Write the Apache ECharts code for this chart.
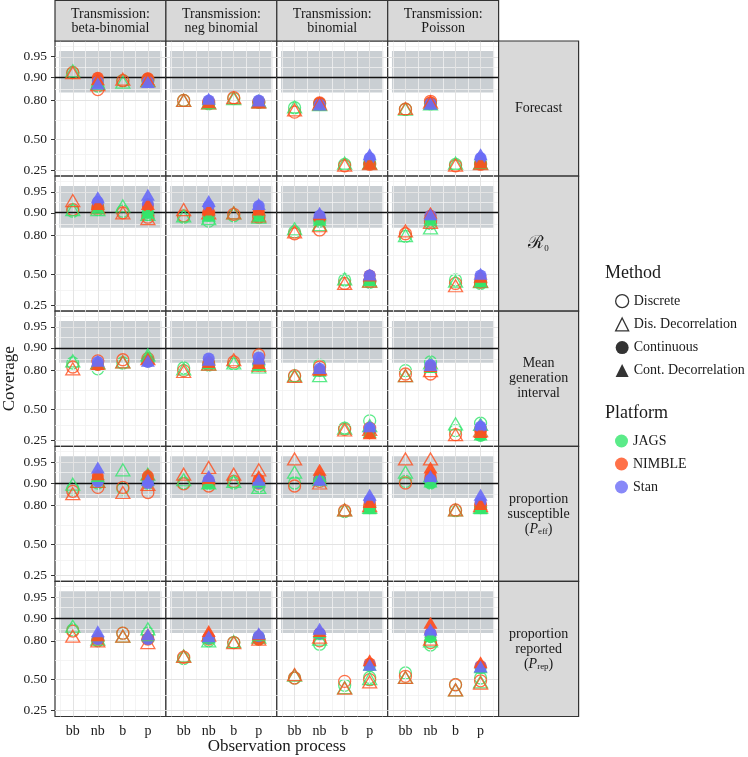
<!DOCTYPE html>
<html><head><meta charset="utf-8">
<script src="https://cdn.jsdelivr.net/npm/echarts@6/dist/echarts.min.js"></script>
<style>html,body{margin:0;padding:0;background:#fff}#chart{width:748px;height:757px}</style>
</head><body><div id="chart"></div>
<script>
// ---------- categories / labels ----------
const transmissions = ['beta-binomial', 'neg binomial', 'binomial', 'Poisson'];
const obsProcesses = ['bb', 'nb', 'b', 'p'];
const metricNames = ['Forecast', 'R0', 'Mean generation interval', 'proportion susceptible', 'proportion reported'];
const yTickValues = [0.25, 0.50, 0.80, 0.90, 0.95];
const methods = ['Discrete', 'Dis. Decorrelation', 'Continuous', 'Cont. Decorrelation'];
const platforms = ['JAGS', 'NIMBLE', 'Stan'];
const nominalCoverage = 0.90;
const bandLimits = [0.841, 0.959];

// ---------- data: 16 values = [bb,nb,b,p] x [beta-binomial, neg binomial, binomial, Poisson] ----------
// Forecast
const fc_D_J  = [0.915,0.87,0.89,0.89,   0.80,0.78,0.81,0.79,   0.755,0.78,0.29,0.30,  0.745,0.78,0.29,0.30];
const fc_D_N  = [0.915,0.855,0.89,0.895, 0.80,0.79,0.815,0.79,  0.725,0.785,0.28,0.29, 0.745,0.795,0.28,0.29];
const fc_DD_J = [0.92,0.88,0.885,0.89,   0.80,0.785,0.81,0.795, 0.76,0.775,0.30,0.30,  0.745,0.78,0.30,0.30];
const fc_DD_N = [0.915,0.875,0.895,0.89, 0.80,0.785,0.815,0.79, 0.74,0.78,0.285,0.295, 0.75,0.79,0.285,0.295];
const fc_C_J  = [null,0.89,null,0.895,   null,0.78,null,0.79,   null,0.78,null,0.30,   null,0.785,null,0.30];
const fc_C_N  = [null,0.90,null,0.898,   null,0.79,null,0.79,   null,0.785,null,0.295, null,0.79,null,0.295];
const fc_C_S  = [null,0.885,null,0.885,  null,0.80,null,0.80,   null,0.775,null,0.34,  null,0.78,null,0.34];
const fc_CD_J = [null,0.885,null,0.89,   null,0.785,null,0.79,  null,0.775,null,0.30,  null,0.78,null,0.30];
const fc_CD_N = [null,0.895,null,0.895,  null,0.79,null,0.79,   null,0.79,null,0.30,   null,0.795,null,0.305];
const fc_CD_S = [null,0.88,null,0.885,   null,0.81,null,0.80,   null,0.775,null,0.37,  null,0.78,null,0.37];
// R0
const r0_D_J  = [0.905,0.91,0.905,0.895, 0.885,0.87,0.89,0.89,  0.82,0.87,0.45,0.43,   0.795,0.86,0.45,0.42];
const r0_D_N  = [0.91,0.915,0.90,0.885,  0.89,0.90,0.895,0.885, 0.81,0.83,0.42,0.44,   0.81,0.87,0.42,0.43];
const r0_DD_J = [0.91,0.91,0.92,0.895,   0.89,0.88,0.90,0.885,  0.836,0.855,0.46,0.44, 0.80,0.84,0.44,0.435];
const r0_DD_N = [0.933,0.915,0.90,0.88,  0.91,0.90,0.90,0.89,   0.82,0.85,0.42,0.44,   0.825,0.865,0.40,0.44];
const r0_C_J  = [null,0.92,null,0.90,    null,0.89,null,0.895,  null,0.875,null,0.45,  null,0.88,null,0.44];
const r0_C_N  = [null,0.92,null,0.92,    null,0.90,null,0.905,  null,0.88,null,0.49,   null,0.89,null,0.47];
const r0_C_S  = [null,0.93,null,0.925,   null,0.92,null,0.92,   null,0.89,null,0.49,   null,0.89,null,0.49];
const r0_CD_J = [null,0.915,null,0.90,   null,0.89,null,0.89,   null,0.875,null,0.45,  null,0.875,null,0.44];
const r0_CD_N = [null,0.925,null,0.925,  null,0.91,null,0.91,   null,0.895,null,0.49,  null,0.90,null,0.48];
const r0_CD_S = [null,0.94,null,0.945,   null,0.932,null,0.925, null,0.90,null,0.50,   null,0.895,null,0.505];
// Mean generation interval
const mg_D_J  = [0.84,0.81,0.84,0.85,    0.815,0.83,0.835,0.83, 0.765,0.83,0.34,0.40,  0.80,0.845,0.32,0.38];
const mg_D_N  = [0.82,0.85,0.855,0.86,   0.80,0.835,0.845,0.875,0.77,0.82,0.33,0.34,   0.78,0.78,0.29,0.33];
const mg_DD_J = [0.85,0.84,0.845,0.875,  0.81,0.835,0.84,0.82,  0.77,0.77,0.34,0.36,   0.77,0.84,0.375,0.37];
const mg_DD_N = [0.81,0.84,0.845,0.86,   0.795,0.835,0.855,0.83,0.765,0.81,0.325,0.33, 0.77,0.80,0.29,0.32];
const mg_C_J  = [null,0.83,null,0.85,    null,0.84,null,0.835,  null,0.80,null,0.31,   null,0.82,null,0.28];
const mg_C_N  = [null,0.83,null,0.85,    null,0.845,null,0.84,  null,0.80,null,0.30,   null,0.82,null,0.31];
const mg_C_S  = [null,0.845,null,0.845,  null,0.86,null,0.865,  null,0.81,null,0.34,   null,0.83,null,0.35];
const mg_CD_J = [null,0.84,null,0.87,    null,0.84,null,0.83,   null,0.80,null,0.31,   null,0.82,null,0.29];
const mg_CD_N = [null,0.835,null,0.86,   null,0.845,null,0.84,  null,0.805,null,0.30,  null,0.825,null,0.31];
const mg_CD_S = [null,0.85,null,0.85,    null,0.855,null,0.86,  null,0.815,null,0.355, null,0.83,null,0.37];
// proportion susceptible
const ps_D_J  = [0.88,0.90,0.88,0.90,    0.90,0.90,0.90,0.89,   0.90,0.91,0.765,0.79,  0.905,0.90,0.77,0.79];
const ps_D_N  = [0.87,0.885,0.885,0.865, 0.897,0.89,0.905,0.90, 0.89,0.905,0.77,0.80,  0.90,0.91,0.775,0.80];
const ps_DD_J = [0.896,0.905,0.935,0.925,0.91,0.90,0.905,0.885, 0.93,0.91,0.775,0.79,  0.93,0.92,0.775,0.79];
const ps_DD_N = [0.86,0.905,0.865,0.895, 0.925,0.94,0.925,0.935,0.955,0.90,0.775,0.80, 0.955,0.955,0.775,0.80];
const ps_C_J  = [null,0.91,null,0.91,    null,0.90,null,0.90,   null,0.91,null,0.785,  null,0.90,null,0.785];
const ps_C_N  = [null,0.92,null,0.92,    null,0.905,null,0.91,  null,0.915,null,0.82,  null,0.92,null,0.81];
const ps_C_S  = [null,0.905,null,0.90,   null,0.91,null,0.90,   null,0.91,null,0.83,   null,0.91,null,0.82];
const ps_CD_J = [null,0.92,null,0.925,   null,0.90,null,0.905,  null,0.92,null,0.785,  null,0.905,null,0.785];
const ps_CD_N = [null,0.925,null,0.925,  null,0.915,null,0.92,  null,0.935,null,0.82,  null,0.94,null,0.81];
const ps_CD_S = [null,0.94,null,0.91,    null,0.92,null,0.91,   null,0.91,null,0.855,  null,0.92,null,0.855];
// proportion reported
const pr_D_J  = [0.855,0.80,0.84,0.84,   0.68,0.80,0.79,0.81,   0.515,0.78,0.45,0.52,  0.56,0.775,0.455,0.515];
const pr_D_N  = [0.85,0.805,0.84,0.81,   0.69,0.81,0.79,0.81,   0.515,0.80,0.485,0.50, 0.53,0.79,0.455,0.49];
const pr_DD_J = [0.871,0.81,0.825,0.86,  0.70,0.80,0.795,0.82,  0.54,0.81,0.43,0.51,   0.52,0.80,0.41,0.48];
const pr_DD_N = [0.825,0.80,0.825,0.79,  0.697,0.83,0.79,0.81,  0.545,0.82,0.425,0.48, 0.52,0.81,0.41,0.47];
const pr_C_J  = [null,0.81,null,0.81,    null,0.81,null,0.82,   null,0.835,null,0.62,  null,0.82,null,0.60];
const pr_C_N  = [null,0.81,null,0.81,    null,0.82,null,0.81,   null,0.84,null,0.64,   null,0.84,null,0.62];
const pr_C_S  = [null,0.81,null,0.81,    null,0.815,null,0.825, null,0.84,null,0.63,   null,0.84,null,0.615];
const pr_CD_J = [null,0.83,null,0.83,    null,0.82,null,0.83,   null,0.845,null,0.63,  null,0.83,null,0.61];
const pr_CD_N = [null,0.83,null,0.835,   null,0.85,null,0.835,  null,0.85,null,0.666,  null,0.884,null,0.65];
const pr_CD_S = [null,0.849,null,0.835,  null,0.825,null,0.84,  null,0.86,null,0.63,   null,0.857,null,0.615];

// ---------- assemble ----------
const combos = [
  ['Discrete','JAGS'], ['Discrete','NIMBLE'],
  ['Dis. Decorrelation','JAGS'], ['Dis. Decorrelation','NIMBLE'],
  ['Continuous','JAGS'], ['Continuous','NIMBLE'], ['Continuous','Stan'],
  ['Cont. Decorrelation','JAGS'], ['Cont. Decorrelation','NIMBLE'], ['Cont. Decorrelation','Stan']
];
const metricValues = [
  [fc_D_J, fc_D_N, fc_DD_J, fc_DD_N, fc_C_J, fc_C_N, fc_C_S, fc_CD_J, fc_CD_N, fc_CD_S],
  [r0_D_J, r0_D_N, r0_DD_J, r0_DD_N, r0_C_J, r0_C_N, r0_C_S, r0_CD_J, r0_CD_N, r0_CD_S],
  [mg_D_J, mg_D_N, mg_DD_J, mg_DD_N, mg_C_J, mg_C_N, mg_C_S, mg_CD_J, mg_CD_N, mg_CD_S],
  [ps_D_J, ps_D_N, ps_DD_J, ps_DD_N, ps_C_J, ps_C_N, ps_C_S, ps_CD_J, ps_CD_N, ps_CD_S],
  [pr_D_J, pr_D_N, pr_DD_J, pr_DD_N, pr_C_J, pr_C_N, pr_C_S, pr_CD_J, pr_CD_N, pr_CD_S]
];

const FONT = '"Liberation Serif", "DejaVu Serif", serif';
const TXT = '#1a1a1a';
const platformColors = { JAGS: '#32e66b', NIMBLE: '#ff4d1c', Stan: '#6a6cf6' };
const methodSymbol = {
  'Discrete': { symbol: 'circle', open: true },
  'Dis. Decorrelation': { symbol: 'triangle', open: true },
  'Continuous': { symbol: 'circle', open: false },
  'Cont. Decorrelation': { symbol: 'triangle', open: false }
};

const logit = p => Math.log(p / (1 - p));
const invLogit = v => 1 / (1 + Math.exp(-v));

// layout
const L = 55, T = 41, PW = 110.9, PH = 135.1;
const NC = 4, NR = 5;
const yMin = -1.313, yMax = 3.506;
const xMin = 0.29, xMax = 4.72;

const grids = [], xAxes = [], yAxes = [], series = [];
const yMajor = yTickValues.map(logit);
const yMinor = [];
for (let i = 0; i < yMajor.length - 1; i++) yMinor.push((yMajor[i] + yMajor[i + 1]) / 2);
yMinor.push(yMajor[yMajor.length - 1] + (yMajor[yMajor.length - 1] - yMajor[yMajor.length - 2]) / 2);
const xMajor = [1, 2, 3, 4];
const xMinor = [0.5, 1.5, 2.5, 3.5, 4.5];

for (let r = 0; r < NR; r++) {
  for (let c = 0; c < NC; c++) {
    const gi = r * NC + c;
    grids.push({ left: L + c * PW, top: T + r * PH, width: PW, height: PH,
      show: true, backgroundColor: '#fff', borderColor: '#333', borderWidth: 1.2 });
    xAxes.push({ gridIndex: gi, type: 'value', min: xMin, max: xMax,
      axisLine: { show: false }, splitLine: { show: false },
      axisTick: { show: r === NR - 1, customValues: xMajor, length: 4, lineStyle: { color: '#333' } },
      axisLabel: { show: r === NR - 1, customValues: xMajor, margin: 8,
        formatter: v => obsProcesses[Math.round(v) - 1],
        fontFamily: FONT, fontSize: 14, color: TXT } });
    yAxes.push({ gridIndex: gi, type: 'value', min: yMin, max: yMax,
      axisLine: { show: false }, splitLine: { show: false },
      axisTick: { show: c === 0, customValues: yMajor, length: 4, lineStyle: { color: '#333' } },
      axisLabel: { show: c === 0, customValues: yMajor, margin: 8,
        formatter: v => invLogit(v).toFixed(2),
        fontFamily: FONT, fontSize: 13.5, color: TXT } });

    // grid lines
    const gl = [];
    yMinor.forEach(v => gl.push({ yAxis: v, lineStyle: { color: '#f1f1f1', width: 0.8, type: 'solid' } }));
    xMinor.forEach(v => gl.push({ xAxis: v, lineStyle: { color: '#f1f1f1', width: 0.8, type: 'solid' } }));
    yMajor.forEach(v => gl.push({ yAxis: v, lineStyle: { color: '#e3e3e3', width: 1, type: 'solid' } }));
    xMajor.forEach(v => gl.push({ xAxis: v, lineStyle: { color: '#e3e3e3', width: 1, type: 'solid' } }));
    series.push({ type: 'scatter', xAxisIndex: gi, yAxisIndex: gi, data: [[1, 0]], symbolSize: 0, silent: true, z: 1,
      markLine: { silent: true, symbol: ['none', 'none'], label: { show: false }, animation: false, data: gl } });
    // nominal band
    series.push({ type: 'scatter', xAxisIndex: gi, yAxisIndex: gi, data: [[1, 0]], symbolSize: 0, silent: true, z: 2,
      markArea: { silent: true, itemStyle: { color: 'rgba(150,160,168,0.5)' }, label: { show: false },
        data: [[{ xAxis: 0.46, yAxis: logit(bandLimits[0]) }, { xAxis: 4.54, yAxis: logit(bandLimits[1]) }]] } });
    // nominal line
    series.push({ type: 'scatter', xAxisIndex: gi, yAxisIndex: gi, data: [[1, 0]], symbolSize: 0, silent: true, z: 3,
      markLine: { silent: true, symbol: ['none', 'none'], label: { show: false }, animation: false,
        data: [{ yAxis: logit(nominalCoverage), lineStyle: { color: '#111', width: 1.4, type: 'solid' } }] } });

    // data points
    combos.forEach((cb, k) => {
      const [method, platform] = cb;
      const arr = metricValues[r][k];
      const pts = [];
      for (let j = 0; j < 4; j++) {
        const v = arr[c * 4 + j];
        if (v !== null && v !== undefined) pts.push([j + 1, logit(v)]);
      }
      const ms = methodSymbol[method];
      const col = platformColors[platform];
      series.push({
        type: 'scatter', name: method + ' / ' + platform, xAxisIndex: gi, yAxisIndex: gi,
        data: pts, z: 4 + k, silent: true,
        symbol: ms.symbol, symbolSize: ms.symbol === 'circle' ? 12 : [14, 12],
        itemStyle: ms.open
          ? { color: 'rgba(255,255,255,0)', borderColor: col, borderWidth: 1.3 }
          : { color: col, opacity: 0.92 }
      });
    });
  }
}

// legend dummy series
methods.concat(platforms).forEach(n => series.push({ type: 'scatter', name: n, xAxisIndex: 0, yAxisIndex: 0, data: [] }));

// graphics: strips and titles
const graphics = [];
transmissions.forEach((t, c) => {
  graphics.push({ type: 'rect', shape: { x: L + c * PW, y: 0.5, width: PW, height: T - 0.5 },
    style: { fill: '#d9d9d9', stroke: '#333', lineWidth: 1.2 }, z: 10 });
  graphics.push({ type: 'text', x: L + c * PW + PW / 2, y: T / 2 + 1, z: 11,
    style: { text: 'Transmission:\n' + t, fill: TXT, font: '14px ' + FONT, align: 'center', verticalAlign: 'middle', lineHeight: 14 } });
});
const stripTexts = [
  'Forecast',
  '{cal|ℛ}{sub|0}',
  'Mean\ngeneration\ninterval',
  'proportion\nsusceptible\n({it|P}{sub|eff})',
  'proportion\nreported\n({it|P}{sub|rep})'
];
const SX = L + NC * PW, SW = 80;
stripTexts.forEach((t, r) => {
  graphics.push({ type: 'rect', shape: { x: SX, y: T + r * PH, width: SW, height: PH },
    style: { fill: '#d9d9d9', stroke: '#333', lineWidth: 1.2 }, z: 10 });
  graphics.push({ type: 'text', x: SX + SW / 2, y: T + r * PH + PH / 2, z: 11,
    style: { text: t, fill: TXT, font: '14px ' + FONT, align: 'center', verticalAlign: 'middle', lineHeight: 15,
      rich: {
        cal: { fontFamily: FONT, fontSize: 18, fill: TXT, lineHeight: 18 },
        it: { fontFamily: FONT, fontSize: 14, fontStyle: 'italic', fill: TXT, lineHeight: 15 },
        sub: { fontFamily: FONT, fontSize: 9, fill: TXT, lineHeight: 15, verticalAlign: 'bottom', padding: [6, 0, 0, 0] }
      } } });
});
graphics.push({ type: 'text', x: L + NC * PW / 2, y: 747, z: 11,
  style: { text: 'Observation process', fill: TXT, font: '17px ' + FONT, align: 'center', verticalAlign: 'middle' } });
graphics.push({ type: 'text', x: 10, y: T + NR * PH / 2, rotation: Math.PI / 2, z: 11,
  style: { text: 'Coverage', fill: TXT, font: '17px ' + FONT, align: 'center', verticalAlign: 'middle' } });
graphics.push({ type: 'text', x: 605, y: 273, z: 11,
  style: { text: 'Method', fill: TXT, font: '18px ' + FONT, align: 'left', verticalAlign: 'middle' } });
graphics.push({ type: 'text', x: 605, y: 413, z: 11,
  style: { text: 'Platform', fill: TXT, font: '18px ' + FONT, align: 'left', verticalAlign: 'middle' } });

const legendText = { fontFamily: FONT, fontSize: 14, color: TXT };
const option = {
  animation: false,
  backgroundColor: '#fff',
  grid: grids, xAxis: xAxes, yAxis: yAxes, series: series,
  graphic: graphics,
  legend: [
    { orient: 'vertical', left: 610, top: 289, itemWidth: 13, itemHeight: 13, itemGap: 9, selectedMode: false,
      textStyle: legendText,
      data: methods.map(m => ({ name: m, icon: methodSymbol[m].symbol,
        itemStyle: methodSymbol[m].open ? { color: 'rgba(255,255,255,0)', borderColor: '#000', borderWidth: 1.3 } : { color: '#000', borderWidth: 0 } })) },
    { orient: 'vertical', left: 610, top: 429, itemWidth: 13, itemHeight: 13, itemGap: 9, selectedMode: false,
      textStyle: legendText,
      data: platforms.map(p => ({ name: p, icon: 'circle', itemStyle: { color: platformColors[p], borderWidth: 0 } })) }
  ]
};
const chart = echarts.init(document.getElementById('chart'), null, { renderer: 'canvas' });
chart.setOption(option);
</script></body></html>
